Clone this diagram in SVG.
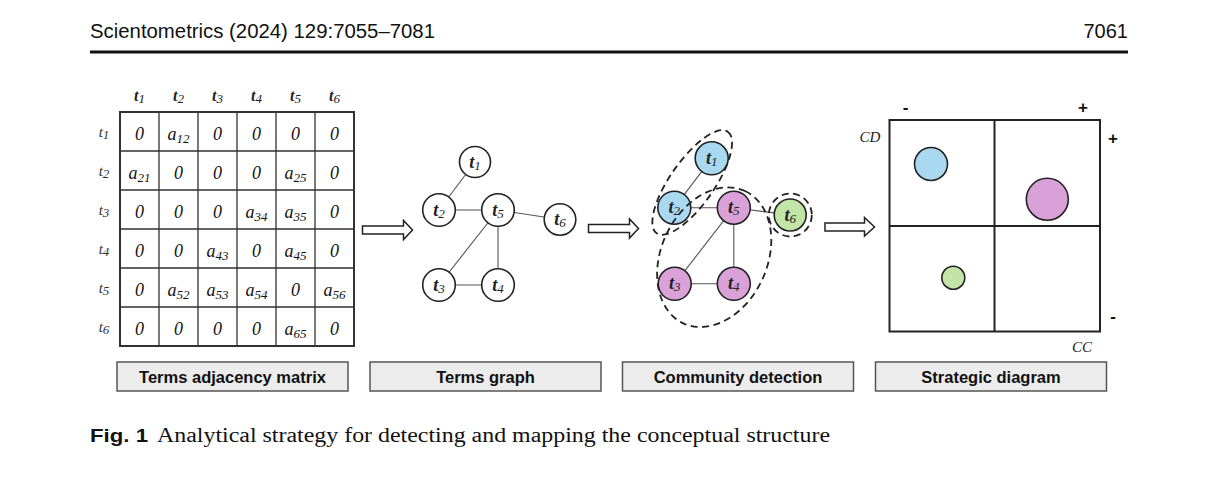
<svg xmlns="http://www.w3.org/2000/svg" width="1218" height="483" viewBox="0 0 1218 483">
<style>
  .hdr { font-family: "Liberation Sans", Arial, sans-serif; font-size: 20px; fill: #111; }
  .grid { fill: none; stroke: #333; stroke-width: 1.3; }
  .gridout { fill: none; stroke: #333; stroke-width: 2; }
  .cell { font-family: "Liberation Serif", "Times New Roman", serif; font-style: italic; font-size: 18px; fill: #111; text-anchor: middle; }
  .sub { font-size: 13px; }
  .colh { font-family: "Liberation Serif", "Times New Roman", serif; font-style: italic; font-weight: bold; font-size: 16px; fill: #222; text-anchor: middle; }
  .rowh { font-family: "Liberation Serif", "Times New Roman", serif; font-style: italic; font-size: 15px; fill: #333; text-anchor: middle; }
  .node { fill: #fff; stroke: #222; stroke-width: 1.6; }
  .blue { fill: #a9d9f1; }
  .pink { fill: #d9a1d8; }
  .green { fill: #c3e4a7; }
  .ntext { font-family: "Liberation Serif", "Times New Roman", serif; font-style: italic; font-weight: bold; font-size: 18px; fill: #222; text-anchor: middle; }
  .nsub { font-size: 13px; font-weight: normal; }
  .edge { stroke: #555; stroke-width: 1.1; fill: none; }
  .dash { fill: none; stroke: #222; stroke-width: 1.8; stroke-dasharray: 7 4.5; }
  .arrow { fill: #fff; stroke: #222; stroke-width: 1.5; stroke-linejoin: miter; }
  .sbox { fill: none; stroke: #222; stroke-width: 2; }
  .axis { font-family: "Liberation Serif", "Times New Roman", serif; font-style: italic; font-size: 15px; fill: #222; text-anchor: middle; }
  .sign { font-family: "Liberation Sans", Arial, sans-serif; font-weight: bold; font-size: 17px; fill: #111; text-anchor: middle; }
  .lbox { fill: #ececec; stroke: #555; stroke-width: 1.5; }
  .ltext { font-family: "Liberation Sans", Arial, sans-serif; font-weight: bold; font-size: 16.5px; fill: #111; text-anchor: middle; }
  .figno { font-family: "Liberation Sans", Arial, sans-serif; font-weight: bold; font-size: 18px; fill: #111; }
  .captxt { font-family: "Liberation Serif", "Times New Roman", serif; font-size: 20px; fill: #111; }
</style>

<!-- Header -->
<g id="header">
  <text class="hdr" x="90" y="38" textLength="345" lengthAdjust="spacingAndGlyphs">Scientometrics (2024) 129:7055–7081</text>
  <text class="hdr" x="1128" y="38" text-anchor="end">7061</text>
  <rect x="90" y="50.5" width="1038" height="3" fill="#111"/>
</g>

<!-- Adjacency matrix -->
<g id="matrix">
  <rect class="gridout" x="120" y="112" width="234" height="234"/>
  <path class="grid" d="M159 112V346M198 112V346M237 112V346M276 112V346M315 112V346M120 151H354M120 190H354M120 229H354M120 268H354M120 307H354"/>
  <g>
    <text class="colh" x="139.5" y="101">t<tspan class="sub" font-weight="normal" dy="2">1</tspan></text>
    <text class="colh" x="178.5" y="101">t<tspan class="sub" font-weight="normal" dy="2">2</tspan></text>
    <text class="colh" x="217.5" y="101">t<tspan class="sub" font-weight="normal" dy="2">3</tspan></text>
    <text class="colh" x="256.5" y="101">t<tspan class="sub" font-weight="normal" dy="2">4</tspan></text>
    <text class="colh" x="295.5" y="101">t<tspan class="sub" font-weight="normal" dy="2">5</tspan></text>
    <text class="colh" x="334.5" y="101">t<tspan class="sub" font-weight="normal" dy="2">6</tspan></text>
  </g>
  <g>
    <text class="rowh" x="104" y="137">t<tspan class="sub" dy="2">1</tspan></text>
    <text class="rowh" x="104" y="176">t<tspan class="sub" dy="2">2</tspan></text>
    <text class="rowh" x="104" y="215">t<tspan class="sub" dy="2">3</tspan></text>
    <text class="rowh" x="104" y="254">t<tspan class="sub" dy="2">4</tspan></text>
    <text class="rowh" x="104" y="293">t<tspan class="sub" dy="2">5</tspan></text>
    <text class="rowh" x="104" y="332">t<tspan class="sub" dy="2">6</tspan></text>
  </g>
  <g>
    <text class="cell" x="139.5" y="140">0</text>
    <text class="cell" x="178.5" y="140">a<tspan class="sub" dy="3">12</tspan></text>
    <text class="cell" x="217.5" y="140">0</text>
    <text class="cell" x="256.5" y="140">0</text>
    <text class="cell" x="295.5" y="140">0</text>
    <text class="cell" x="334.5" y="140">0</text>
    <text class="cell" x="139.5" y="179">a<tspan class="sub" dy="3">21</tspan></text>
    <text class="cell" x="178.5" y="179">0</text>
    <text class="cell" x="217.5" y="179">0</text>
    <text class="cell" x="256.5" y="179">0</text>
    <text class="cell" x="295.5" y="179">a<tspan class="sub" dy="3">25</tspan></text>
    <text class="cell" x="334.5" y="179">0</text>
    <text class="cell" x="139.5" y="218">0</text>
    <text class="cell" x="178.5" y="218">0</text>
    <text class="cell" x="217.5" y="218">0</text>
    <text class="cell" x="256.5" y="218">a<tspan class="sub" dy="3">34</tspan></text>
    <text class="cell" x="295.5" y="218">a<tspan class="sub" dy="3">35</tspan></text>
    <text class="cell" x="334.5" y="218">0</text>
    <text class="cell" x="139.5" y="257">0</text>
    <text class="cell" x="178.5" y="257">0</text>
    <text class="cell" x="217.5" y="257">a<tspan class="sub" dy="3">43</tspan></text>
    <text class="cell" x="256.5" y="257">0</text>
    <text class="cell" x="295.5" y="257">a<tspan class="sub" dy="3">45</tspan></text>
    <text class="cell" x="334.5" y="257">0</text>
    <text class="cell" x="139.5" y="296">0</text>
    <text class="cell" x="178.5" y="296">a<tspan class="sub" dy="3">52</tspan></text>
    <text class="cell" x="217.5" y="296">a<tspan class="sub" dy="3">53</tspan></text>
    <text class="cell" x="256.5" y="296">a<tspan class="sub" dy="3">54</tspan></text>
    <text class="cell" x="295.5" y="296">0</text>
    <text class="cell" x="334.5" y="296">a<tspan class="sub" dy="3">56</tspan></text>
    <text class="cell" x="139.5" y="335">0</text>
    <text class="cell" x="178.5" y="335">0</text>
    <text class="cell" x="217.5" y="335">0</text>
    <text class="cell" x="256.5" y="335">0</text>
    <text class="cell" x="295.5" y="335">a<tspan class="sub" dy="3">65</tspan></text>
    <text class="cell" x="334.5" y="335">0</text>
  </g>
</g>

<!-- Connectors: graph edges and block arrows -->
<g id="connectors">
  <line class="edge" x1="475" y1="162" x2="439" y2="210"/>
  <line class="edge" x1="439" y1="210" x2="498" y2="210"/>
  <line class="edge" x1="498" y1="210" x2="560" y2="219.5"/>
  <line class="edge" x1="498" y1="210" x2="439" y2="285"/>
  <line class="edge" x1="498" y1="210" x2="498" y2="285"/>
  <line class="edge" x1="439" y1="285" x2="498" y2="285"/>
  <line class="edge" x1="711.7" y1="158.3" x2="674.3" y2="207.7"/>
  <line class="edge" x1="674.3" y1="207.7" x2="733.8" y2="207.7"/>
  <line class="edge" x1="733.8" y1="207.7" x2="790.2" y2="215"/>
  <line class="edge" x1="733.8" y1="207.7" x2="674.7" y2="283.8"/>
  <line class="edge" x1="733.8" y1="207.7" x2="733.8" y2="283.8"/>
  <line class="edge" x1="674.7" y1="283.8" x2="733.8" y2="283.8"/>
  <path class="arrow" d="M362.5 226H403.5V220.5L412.5 230L403.5 239.5V234H362.5Z"/>
  <path class="arrow" d="M588.5 224.5H629.5V219L638.5 228.5L629.5 238V232.5H588.5Z"/>
  <path class="arrow" d="M825 223H864.5V217.5L874.5 227L864.5 236V231H825Z"/>
</g>

<!-- Terms graph nodes -->
<g id="graph-t1"><circle class="node" cx="475" cy="162" r="15.5"/><text class="ntext" x="475" y="167.5">t<tspan class="nsub" dy="2">1</tspan></text></g>
<g id="graph-t2"><circle class="node" cx="439" cy="210" r="16.3"/><text class="ntext" x="439" y="215.5">t<tspan class="nsub" dy="2">2</tspan></text></g>
<g id="graph-t5"><circle class="node" cx="498" cy="210" r="16.3"/><text class="ntext" x="498" y="215.5">t<tspan class="nsub" dy="2">5</tspan></text></g>
<g id="graph-t6"><circle class="node" cx="560" cy="219.5" r="15.8"/><text class="ntext" x="560" y="225">t<tspan class="nsub" dy="2">6</tspan></text></g>
<g id="graph-t3"><circle class="node" cx="439" cy="285" r="16.3"/><text class="ntext" x="439" y="290.5">t<tspan class="nsub" dy="2">3</tspan></text></g>
<g id="graph-t4"><circle class="node" cx="498" cy="285" r="16.3"/><text class="ntext" x="498" y="290.5">t<tspan class="nsub" dy="2">4</tspan></text></g>

<!-- Community detection nodes -->
<g id="comm-t1"><circle class="node blue" cx="711.7" cy="158.3" r="16.5"/><text class="ntext" x="711.7" y="163.8">t<tspan class="nsub" dy="2">1</tspan></text></g>
<g id="comm-t2"><circle class="node blue" cx="674.3" cy="207.7" r="16.5"/><text class="ntext" x="674.3" y="213.2">t<tspan class="nsub" dy="2">2</tspan></text></g>
<g id="comm-t5"><circle class="node pink" cx="733.8" cy="207.7" r="16.5"/><text class="ntext" x="733.8" y="213.2">t<tspan class="nsub" dy="2">5</tspan></text></g>
<g id="comm-t6"><circle class="node green" cx="790.2" cy="215" r="16"/><text class="ntext" x="790.2" y="220.5">t<tspan class="nsub" dy="2">6</tspan></text></g>
<g id="comm-t3"><circle class="node pink" cx="674.7" cy="283.8" r="16.5"/><text class="ntext" x="674.7" y="289.3">t<tspan class="nsub" dy="2">3</tspan></text></g>
<g id="comm-t4"><circle class="node pink" cx="733.8" cy="283.8" r="16.5"/><text class="ntext" x="733.8" y="289.3">t<tspan class="nsub" dy="2">4</tspan></text></g>

<!-- Community outlines -->
<g id="communities">
  <ellipse class="dash" cx="692.2" cy="182.5" rx="62" ry="22" transform="rotate(-55 692.2 182.5)"/>
  <ellipse class="dash" cx="714.2" cy="257.2" rx="73" ry="53" transform="rotate(-65 714.2 257.2)"/>
  <circle class="dash" cx="790.3" cy="215" r="21.5"/>
</g>

<!-- Strategic diagram -->
<g id="strategic-diagram">
  <rect class="sbox" x="889.5" y="120" width="210.5" height="211.5"/>
  <line class="sbox" x1="994.5" y1="120" x2="994.5" y2="331.5"/>
  <line class="sbox" x1="889.5" y1="226" x2="1100" y2="226"/>
  <text class="sign" x="905.5" y="113">-</text>
  <text class="sign" x="1083" y="113">+</text>
  <text class="sign" x="1113" y="144">+</text>
  <text class="sign" x="1113" y="322">-</text>
  <text class="axis" x="870" y="141.5">CD</text>
  <text class="axis" x="1082" y="351.5">CC</text>
  <g id="theme-blue"><circle class="node blue" cx="931" cy="164" r="16.5"/></g>
  <g id="theme-pink"><circle class="node pink" cx="1047.3" cy="199.3" r="21"/></g>
  <g id="theme-green"><circle class="node green" cx="953.3" cy="277.7" r="11.5"/></g>
</g>

<!-- Stage labels -->
<g id="label-matrix"><rect class="lbox" x="117" y="362" width="231" height="29"/><text class="ltext" x="232.5" y="382.5">Terms adjacency matrix</text></g>
<g id="label-graph"><rect class="lbox" x="370" y="362" width="231" height="29"/><text class="ltext" x="485.5" y="382.5">Terms graph</text></g>
<g id="label-community"><rect class="lbox" x="622.5" y="362" width="231" height="29"/><text class="ltext" x="738" y="382.5">Community detection</text></g>
<g id="label-strategic"><rect class="lbox" x="875.5" y="362" width="231" height="29"/><text class="ltext" x="991" y="382.5">Strategic diagram</text></g>

<!-- Caption -->
<g id="caption">
  <text class="figno" x="90" y="442" textLength="58" lengthAdjust="spacingAndGlyphs">Fig. 1</text>
  <text class="captxt" x="157" y="442" textLength="673" lengthAdjust="spacingAndGlyphs">Analytical strategy for detecting and mapping the conceptual structure</text>
</g>
</svg>
